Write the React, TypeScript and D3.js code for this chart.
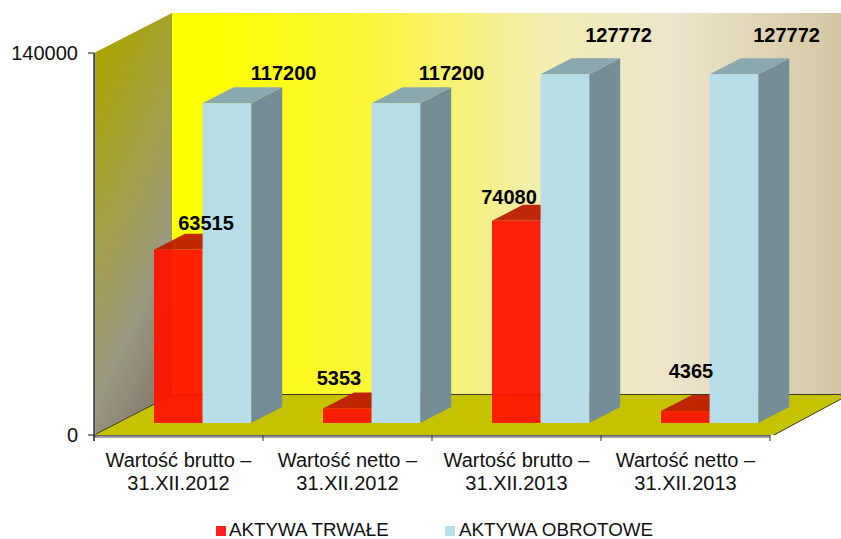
import React from "react";
import * as d3 from "d3";

const categories = [
  ["Wartość brutto –", "31.XII.2012"],
  ["Wartość netto –", "31.XII.2012"],
  ["Wartość brutto –", "31.XII.2013"],
  ["Wartość netto –", "31.XII.2013"],
];
const trwale = [63515, 5353, 74080, 4365];
const obrotowe = [117200, 117200, 127772, 127772];
const yTicks = [0, 140000];
const legendNames = ["AKTYWA TRWAŁE", "AKTYWA OBROTOWE"];

const FONT = "'Liberation Sans', Arial, sans-serif";
const W = 841, H = 539;
const x0 = 94, x1 = 770, yTop = 53, yBot = 435;
const depthX = 78, depthY = 41;
const barDX = 31, barDY = 16;
const barBase = 423;

const band = d3.scaleBand<number>().domain(d3.range(4)).range([x0, x1]);
const yLen = d3.scaleLinear().domain([0, 140000]).range([0, yBot - yTop]);
const yAxis = d3.scaleLinear().domain([0, 140000]).range([yBot, yTop]);
const barY = (v: number) => barBase - yLen(v);
const poly = (pts: number[][]) => d3.line()(pts as [number, number][]) + "Z";

const barOffset = 60, barW = 48.6;
const redLabel = [{ dx: 28, dy: 20 }, { dx: -8, dy: 23 }, { dx: -7, dy: 17 }, { dx: 6, dy: 33 }];
const blueLabel = [{ dx: 32, dy: 23 }, { dx: 31, dy: 23 }, { dx: 29, dy: 32 }, { dx: 28, dy: 32 }];

function Bar({ x, v, front, top, side, opacity }: any) {
  const y = barY(v);
  return (
    <g opacity={opacity}>
      <path d={poly([[x + barW, y], [x + barW + barDX, y - barDY], [x + barW + barDX, barBase - barDY], [x + barW, barBase]])} fill={side} />
      <path d={poly([[x, y], [x + barDX, y - barDY], [x + barW + barDX, y - barDY], [x + barW, y]])} fill={top} />
      <rect x={x} y={y} width={barW} height={barBase - y} fill={front} />
    </g>
  );
}

export default function App() {
  const b = band.bandwidth();
  return (
    <svg width={W} height={H} viewBox={`0 0 ${W} ${H}`} style={{ position: "absolute", left: 0, top: 0, background: "#fff" }}>
      <defs>
        <linearGradient id="wall" x1="0" x2="1" y1="0" y2="0">
          <stop offset="0" stopColor="#FFFF00" />
          <stop offset="0.06" stopColor="#FFFF00" />
          <stop offset="0.3" stopColor="#FBF53C" />
          <stop offset="0.55" stopColor="#F3EEB0" />
          <stop offset="0.75" stopColor="#EDE5CC" />
          <stop offset="1" stopColor="#D3C6A2" />
        </linearGradient>
        <linearGradient id="side" x1="0.3" x2="0.7" y1="0" y2="1">
          <stop offset="0" stopColor="#A8A400" />
          <stop offset="0.35" stopColor="#A4A040" />
          <stop offset="0.7" stopColor="#9A9880" />
          <stop offset="1" stopColor="#85796A" />
        </linearGradient>
      </defs>

      {/* back wall */}
      <rect x={x0 + depthX} y={yTop - depthY + 1} width={W - x0 - depthX} height={yBot - yTop} fill="url(#wall)" />
      {/* left wall */}
      <path d={poly([[x0, yTop], [x0 + depthX, yTop - depthY + 1], [x0 + depthX, yBot - depthY + 1], [x0, yBot]])} fill="url(#side)" />
      {/* floor */}
      <path d={poly([[x0, yBot], [x0 + depthX, yBot - depthY + 1], [W, yBot - depthY + 1], [W, yBot - depthY + 5], [x1 + 4, yBot]])} fill="#C5C300" />
      <line x1={x0 + depthX} x2={W} y1={yBot - depthY + 0.5} y2={yBot - depthY + 0.5} stroke="#3a3a20" strokeWidth={1} />
      <line x1={x0} x2={x0 + depthX} y1={yBot} y2={yBot - depthY + 1} stroke="#3a3a20" strokeWidth={1} />
      <line x1={x1 + 4} x2={W} y1={yBot} y2={yBot - depthY + 5} stroke="#3a3a20" strokeWidth={1} />

      {/* bars */}
      {categories.map((_, i) => {
        const x = band(i)! + barOffset;
        return (
          <g key={i}>
            <Bar x={x} v={trwale[i]} front="#FF1400" top="#BE1C00" side="#A01000" opacity={0.94} />
            <Bar x={x + barW} v={obrotowe[i]} front="#B7DDE8" top="#8BA7B0" side="#748D96" opacity={1} />
          </g>
        );
      })}

      {/* axes */}
      <line x1={x0 + 1.5} x2={x0 + 1.5} y1={yTop} y2={yBot + 2} stroke="#999" strokeWidth={1} />
      <line x1={x0} x2={x1} y1={yBot + 2} y2={yBot + 2} stroke="#888" strokeWidth={1.5} />
      <line x1={x0} x2={x0} y1={yTop} y2={yBot + 6} stroke="#111" strokeWidth={1.2} />
      <line x1={x0} x2={x1} y1={yBot + 0.7} y2={yBot + 0.7} stroke="#444" strokeWidth={1} />
      {yTicks.map((t) => (
        <g key={t}>
          <line x1={x0 - 6} x2={x0} y1={yAxis(t)} y2={yAxis(t)} stroke="#111" strokeWidth={1} />
          <text x={78} y={yAxis(t)} dy="0.36em" textAnchor="end" fontFamily={FONT} fontSize={20} fill="#111">{t}</text>
        </g>
      ))}
      {d3.range(5).map((i) => (
        <line key={i} x1={x0 + i * b} x2={x0 + i * b} y1={yBot} y2={yBot + 6} stroke="#333" strokeWidth={1} />
      ))}
      {categories.map((c, i) => (
        <text key={i} textAnchor="middle" fontFamily={FONT} fontSize={20} fill="#111">
          <tspan x={band(i)! + b / 2} y={467}>{c[0]}</tspan>
          <tspan x={band(i)! + b / 2} y={490}>{c[1]}</tspan>
        </text>
      ))}

      {/* data labels */}
      {categories.map((_, i) => {
        const x = band(i)! + barOffset;
        return (
          <g key={i} fontFamily={FONT} fontSize={20} fontWeight="bold" fill="#000" textAnchor="middle">
            <text x={x + redLabel[i].dx + 24} y={barY(trwale[i]) - redLabel[i].dy}>{trwale[i]}</text>
            <text x={x + barW + blueLabel[i].dx + 49} y={barY(obrotowe[i]) - blueLabel[i].dy}>{obrotowe[i]}</text>
          </g>
        );
      })}

      {/* legend */}
      <rect x={216} y={526} width={10} height={10} fill="#FF2020" />
      <text x={229} y={536} fontFamily={FONT} fontSize={18.8} fill="#111">{legendNames[0]}</text>
      <rect x={445} y={526} width={10} height={10} fill="#B7DDE8" />
      <text x={459} y={536} fontFamily={FONT} fontSize={18.8} fill="#111">{legendNames[1]}</text>
    </svg>
  );
}
